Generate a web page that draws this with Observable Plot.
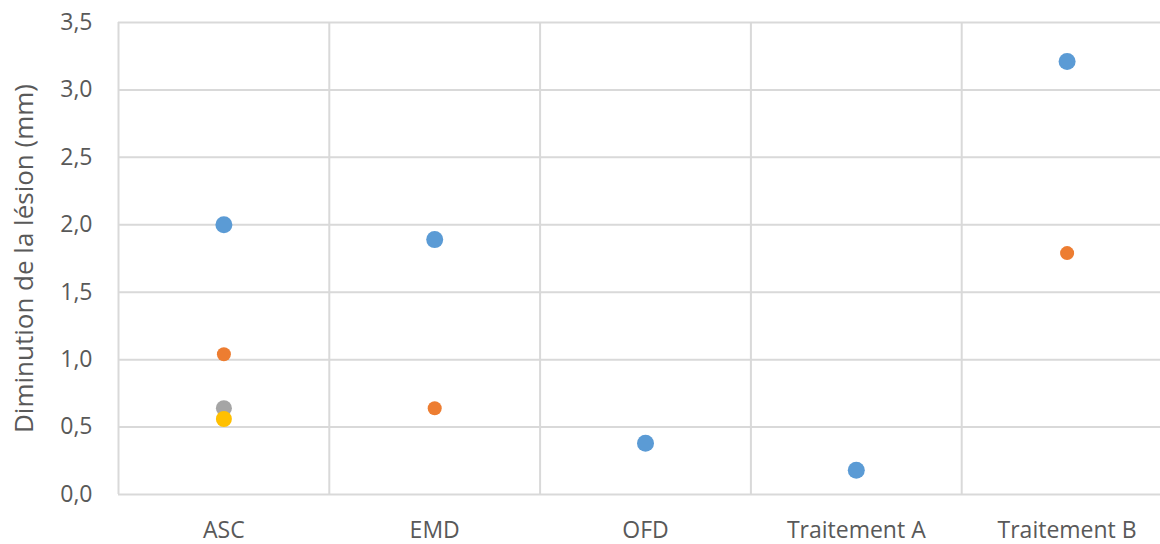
<!DOCTYPE html>
<html>
<head>
<meta charset="utf-8">
<script src="https://cdn.jsdelivr.net/npm/d3@7"></script>
<script src="https://cdn.jsdelivr.net/npm/@observablehq/plot@0.6"></script>
<style>
  html, body { margin: 0; padding: 0; background: #fff; overflow: hidden; }
  #chart svg { display: block; }
</style>
</head>
<body>
<div id="chart"></div>
<script>
const categories = ["ASC", "EMD", "OFD", "Traitement A", "Traitement B"];
const serie1 = [2.0, 1.89, 0.38, 0.18, 3.21];   // bleu
const serie2 = [1.04, 0.64, null, null, 1.79];  // orange
const serie3 = [0.64, null, null, null, null];  // gris
const serie4 = [0.56, null, null, null, null];  // jaune
const yTicks = [0, 0.5, 1, 1.5, 2, 2.5, 3, 3.5];

const seriesDefs = [
  {values: serie1, color: "#5b9bd5", r: 8.5},
  {values: serie2, color: "#ed7d31", r: 7},
  {values: serie3, color: "#a5a5a5", r: 8},
  {values: serie4, color: "#ffc000", r: 8}
];

const idx = categories.map((_, i) => i);
const bounds = [-0.5, ...idx.map(i => i + 0.5)];
const fmt = d => d.toFixed(1).replace(".", ",");

const pointMarks = seriesDefs.map(s => {
  const data = idx.filter(i => s.values[i] != null).map(i => ({x: i, y: s.values[i]}));
  return Plot.dot(data, {x: "x", y: "y", r: s.r, fill: s.color, stroke: "none"});
});

const chart = Plot.plot({
  width: 1160,
  height: 544,
  marginTop: 22,
  marginBottom: 50,
  marginLeft: 118,
  marginRight: 0,
  style: {fontFamily: "'Open Sans', sans-serif", fontSize: "23px", color: "#595959", background: "#fff"},
  x: {type: "linear", domain: [-0.5, 4.5], range: [118, 1172]},
  y: {domain: [0, 3.5], range: [494, 22]},
  marks: [
    Plot.ruleY(yTicks, {stroke: "#d9d9d9", strokeWidth: 2}),
    Plot.ruleX(bounds, {stroke: "#d9d9d9", strokeWidth: 2}),
    Plot.axisY({ticks: yTicks, tickFormat: fmt, tickSize: 0, tickPadding: 26,
      label: null, fill: "#595959", fontSize: 23}),
    Plot.axisY({ticks: [], tickSize: 0,
      label: "Diminution de la lésion (mm)", labelAnchor: "center", labelOffset: 104, labelArrow: "none",
      fill: "#595959", fontSize: 26}),
    Plot.axisX({ticks: idx, tickFormat: i => categories[i], tickSize: 0, tickPadding: 27,
      label: null, fill: "#595959", fontSize: 23}),
    ...pointMarks
  ]
});
document.getElementById("chart").appendChild(chart);
</script>
</body>
</html>
